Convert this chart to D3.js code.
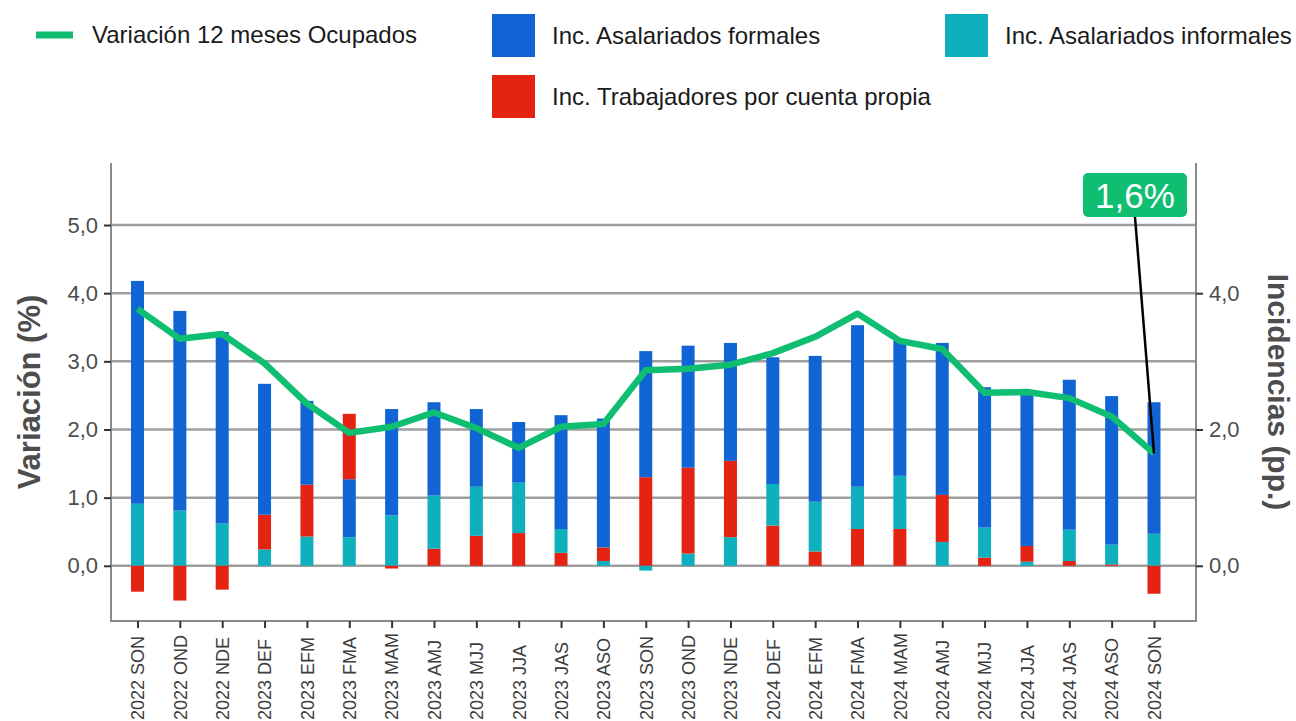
<!DOCTYPE html>
<html lang="es">
<head>
    <meta charset="UTF-8">
    <title>Variación 12 meses Ocupados e incidencias</title>
    <script src="https://d3js.org/d3.v7.min.js"></script>
    <style>
        body { margin: 0; background: #fff; }
        svg { display: block; font-family: "Liberation Sans", Arial, sans-serif; }
        .grid line { stroke: #9e9e9e; stroke-width: 2.5; }
        .tick line { stroke: #333; stroke-width: 2; }
        .tick text { fill: #4d4d4d; }
        .axis-title { fill: #4d4d4d; font-weight: bold; font-size: 31px; }
        .legend text { fill: #1a1a1a; font-size: 24px; }
    </style>
</head>
<body>
<svg width="1296" height="721"></svg>
<script>
    // trimestres móviles
    const periodos = [
        "2022 SON", "2022 OND", "2022 NDE", "2023 DEF", "2023 EFM", "2023 FMA", "2023 MAM",
        "2023 AMJ", "2023 MJJ", "2023 JJA", "2023 JAS", "2023 ASO", "2023 SON", "2023 OND",
        "2023 NDE", "2024 DEF", "2024 EFM", "2024 FMA", "2024 MAM", "2024 AMJ", "2024 MJJ",
        "2024 JJA", "2024 JAS", "2024 ASO", "2024 SON"
    ];
    // incidencias (pp.)
    const formales = [3.27, 2.93, 2.81, 1.92, 1.23, 0.85, 1.56, 1.37, 1.14, 0.89, 1.67, 1.89, 1.85,
                      1.79, 1.73, 1.86, 2.14, 2.37, 1.98, 2.23, 2.06, 2.26, 2.20, 2.18, 1.93];
    const informales = [0.91, 0.81, 0.62, 0.24, 0.43, 0.42, 0.74, 0.78, 0.72, 0.74, 0.35, 0.07, -0.07,
                        0.18, 0.42, 0.61, 0.73, 0.62, 0.78, 0.35, 0.44, 0.06, 0.46, 0.29, 0.47];
    const cuentaPropia = [-0.38, -0.51, -0.35, 0.51, 0.76, 0.96, -0.04, 0.25, 0.44, 0.48, 0.19, 0.20, 1.30,
                          1.26, 1.12, 0.59, 0.21, 0.54, 0.54, 0.69, 0.12, 0.23, 0.07, 0.02, -0.41];
    // variación 12 meses ocupados (%)
    const variacion = [3.77, 3.33, 3.40, 2.97, 2.38, 1.95, 2.04, 2.25, 2.02, 1.73, 2.04, 2.08, 2.87,
                       2.89, 2.95, 3.12, 3.36, 3.70, 3.30, 3.18, 2.54, 2.55, 2.46, 2.19, 1.65];
    const ticksIzq = [0, 1, 2, 3, 4, 5];
    const ticksDer = [0, 2, 4];
    const etiquetaFinal = "1,6%";

    const series = [
        { key: "formales", nombre: "Inc. Asalariados formales", color: "#1064d4", valores: formales },
        { key: "informales", nombre: "Inc. Asalariados informales", color: "#0db0bc", valores: informales },
        { key: "propia", nombre: "Inc. Trabajadores por cuenta propia", color: "#e52313", valores: cuentaPropia }
    ];
    const verde = "#10be71";

    const fmt = d3.formatLocale({ decimal: ",", thousands: ".", grouping: [3], currency: ["", ""] }).format(".1f");

    const svg = d3.select("svg");

    // área del panel
    const panel = { left: 111, right: 1196, top: 163, bottom: 621 };

    const x = d3.scalePoint()
        .domain(periodos)
        .range([137.5, 1154]);

    const y = d3.scaleLinear()
        .domain([-0.81, 5.91])
        .range([panel.bottom, panel.top]);

    const barW = 13;

    // líneas de grilla
    svg.append("g").attr("class", "grid")
        .selectAll("line")
        .data(ticksIzq)
        .enter().append("line")
        .attr("x1", panel.left).attr("x2", panel.right)
        .attr("y1", d => y(d)).attr("y2", d => y(d));

    // barras apiladas: en cada periodo se apilan de menor a mayor
    const segmentos = [];
    periodos.forEach((p, i) => {
        const vals = series.map(s => ({ periodo: p, color: s.color, v: s.valores[i] }));
        let pos = 0, neg = 0;
        vals.filter(d => d.v >= 0).sort((a, b) => a.v - b.v).forEach(d => {
            segmentos.push({ ...d, y0: pos, y1: pos + d.v });
            pos += d.v;
        });
        vals.filter(d => d.v < 0).sort((a, b) => b.v - a.v).forEach(d => {
            segmentos.push({ ...d, y0: neg + d.v, y1: neg });
            neg += d.v;
        });
    });

    svg.append("g")
        .selectAll("rect")
        .data(segmentos)
        .enter().append("rect")
        .attr("x", d => x(d.periodo) - barW / 2)
        .attr("width", barW)
        .attr("y", d => y(d.y1))
        .attr("height", d => y(d.y0) - y(d.y1))
        .attr("fill", d => d.color);

    // línea de variación
    const linea = d3.line()
        .x((d, i) => x(periodos[i]))
        .y(d => y(d));

    svg.append("path")
        .datum(variacion)
        .attr("d", linea)
        .attr("fill", "none")
        .attr("stroke", verde)
        .attr("stroke-width", 6.5)
        .attr("stroke-linejoin", "round");

    // bordes del panel
    const borde = svg.append("g").attr("stroke", "#8a8a8a").attr("stroke-width", 2);
    borde.append("line").attr("x1", panel.left).attr("x2", panel.left).attr("y1", panel.top).attr("y2", panel.bottom + 1);
    borde.append("line").attr("x1", panel.right).attr("x2", panel.right).attr("y1", panel.top).attr("y2", panel.bottom + 1);
    borde.append("line").attr("x1", panel.left).attr("x2", panel.right).attr("y1", panel.bottom).attr("y2", panel.bottom);

    // eje izquierdo
    svg.append("g")
        .attr("transform", "translate(" + panel.left + ",0)")
        .call(d3.axisLeft(y).tickValues(ticksIzq).tickFormat(fmt).tickSize(7).tickPadding(6))
        .call(g => g.select(".domain").remove())
        .selectAll(".tick text")
        .style("font-size", "22px");

    // eje derecho
    svg.append("g")
        .attr("transform", "translate(" + panel.right + ",0)")
        .call(d3.axisRight(y).tickValues(ticksDer).tickFormat(fmt).tickSize(7).tickPadding(6))
        .call(g => g.select(".domain").remove())
        .selectAll(".tick text")
        .style("font-size", "22px");

    // eje x
    const ejeX = svg.append("g")
        .attr("transform", "translate(0," + panel.bottom + ")")
        .call(d3.axisBottom(x).tickSize(7).tickSizeOuter(0));
    ejeX.select(".domain").remove();
    ejeX.selectAll(".tick text")
        .attr("transform", "translate(0,99) rotate(-90)")
        .attr("x", 0).attr("y", 0).attr("dy", "0.35em")
        .style("text-anchor", "start")
        .style("font-size", "18px")
        .style("fill", "#3d3d3d");

    // títulos de ejes
    svg.append("text")
        .attr("class", "axis-title")
        .attr("transform", "translate(29,392) rotate(-90)")
        .attr("text-anchor", "middle")
        .attr("dy", "0.35em")
        .text("Variación (%)");

    svg.append("text")
        .attr("class", "axis-title")
        .attr("transform", "translate(1278,392) rotate(90)")
        .attr("text-anchor", "middle")
        .attr("dy", "0.35em")
        .style("font-size", "30px")
        .text("Incidencias (pp.)");

    // etiqueta del último dato
    const ult = variacion.length - 1;
    const caja = { x: 1083, y: 173, w: 104, h: 44 };
    svg.append("line")
        .attr("x1", caja.x + caja.w / 2).attr("y1", caja.y + caja.h)
        .attr("x2", x(periodos[ult])).attr("y2", y(variacion[ult]))
        .attr("stroke", "#000").attr("stroke-width", 2.5);
    svg.append("rect")
        .attr("x", caja.x).attr("y", caja.y)
        .attr("width", caja.w).attr("height", caja.h)
        .attr("rx", 5)
        .attr("fill", verde);
    svg.append("text")
        .attr("x", caja.x + caja.w / 2).attr("y", caja.y + caja.h / 2)
        .attr("dy", "0.36em")
        .attr("text-anchor", "middle")
        .style("font-size", "35px")
        .style("fill", "#fff")
        .text(etiquetaFinal);

    // leyenda
    const ley = svg.append("g").attr("class", "legend");
    ley.append("line")
        .attr("x1", 36).attr("x2", 73).attr("y1", 35).attr("y2", 35)
        .attr("stroke", verde).attr("stroke-width", 7);
    ley.append("text").attr("x", 92).attr("y", 35).attr("dy", "0.35em").text("Variación 12 meses Ocupados");

    const posLey = [
        { x: 492, y: 14 },
        { x: 945, y: 14 },
        { x: 492, y: 75 }
    ];
    series.forEach((s, i) => {
        const p = posLey[i];
        ley.append("rect").attr("x", p.x).attr("y", p.y).attr("width", 43).attr("height", 43).attr("fill", s.color);
        ley.append("text").attr("x", p.x + 60).attr("y", p.y + 21.5).attr("dy", "0.35em").text(s.nombre);
    });
</script>
</body>
</html>
